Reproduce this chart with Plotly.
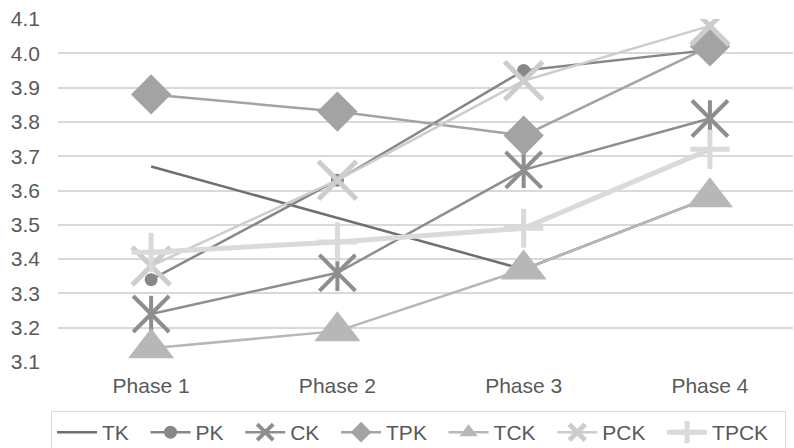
import plotly.graph_objects as go

categories = ["Phase 1", "Phase 2", "Phase 3", "Phase 4"]
TK = [3.67, 3.52, 3.37, 3.58]
PK = [3.34, 3.63, 3.95, 4.01]
CK = [3.24, 3.36, 3.66, 3.81]
TPK = [3.88, 3.83, 3.76, 4.02]
TCK = [3.14, 3.19, 3.37, 3.58]
PCK = [3.38, 3.63, 3.92, 4.08]
TPCK = [3.42, 3.45, 3.49, 3.72]
y_ticks = [3.1, 3.2, 3.3, 3.4, 3.5, 3.6, 3.7, 3.8, 3.9, 4.0, 4.1]

FONT = "Liberation Sans, Arial, sans-serif"
TXT = "#595959"
PAD = "\u00a0\u00a0"  # legend entry spacing

fig = go.Figure()

def add(name, y, color, width, mode, marker=None, showlegend=True):
    fig.add_trace(go.Scatter(
        x=categories, y=y, name=name + PAD, mode=mode,
        line=dict(color=color, width=width),
        marker=marker, showlegend=showlegend, legendgroup=name,
    ))

add("TK", TK, "#6f6f6f", 2.5, "lines")
add("PK", PK, "#878787", 2.5, "lines+markers",
    dict(symbol="circle", size=13, color="#878787"))
add("CK", CK, "#8e8e8e", 2.5, "lines+markers",
    dict(symbol="x-thin-open", size=36, line=dict(color="#8e8e8e", width=4)))
add("CK", CK, "#8e8e8e", 2.5, "markers",
    dict(symbol="line-ns-open", size=26, line=dict(color="#8e8e8e", width=4)),
    showlegend=False)
add("TPK", TPK, "#a3a3a3", 2.5, "lines+markers",
    dict(symbol="diamond", size=31, color="#a3a3a3"))
add("TCK", TCK, "#b7b7b7", 2.5, "lines+markers",
    dict(symbol="triangle-up", size=40, color="#b7b7b7"))
add("PCK", PCK, "#cdcdcd", 2.5, "lines+markers",
    dict(symbol="x-thin-open", size=38, line=dict(color="#cdcdcd", width=5)))
add("TPCK", TPCK, "#dadada", 5, "lines+markers",
    dict(symbol="cross-thin-open", size=28, line=dict(color="#dadada", width=5)))

fig.update_layout(
    width=794, height=448,
    margin=dict(l=58, r=1, t=19, b=86),
    paper_bgcolor="white", plot_bgcolor="white",
    font=dict(family=FONT, size=21, color=TXT),
    xaxis=dict(range=[-0.5, 3.446], showgrid=False, zeroline=False,
               showline=False, ticks="", ticklabelstandoff=9,
               tickfont=dict(size=21, color=TXT)),
    yaxis=dict(range=[3.1, 4.1], tickvals=y_ticks,
               ticktext=[f"{v:.1f}" for v in y_ticks],
               showgrid=True, gridcolor="#d9d9d9", gridwidth=1.5,
               zeroline=False, showline=False, ticks="",
               ticklabelstandoff=17, tickfont=dict(size=21, color=TXT)),
    legend=dict(orientation="h", xref="container", yref="container",
                x=51 / 794, xanchor="left", y=1 - 411 / 448,
                yanchor="top", bordercolor="#d9d9d9", borderwidth=1,
                font=dict(size=21, color=TXT),
                itemwidth=40, traceorder="normal"),
    showlegend=True,
)

fig.write_html("out.html")
